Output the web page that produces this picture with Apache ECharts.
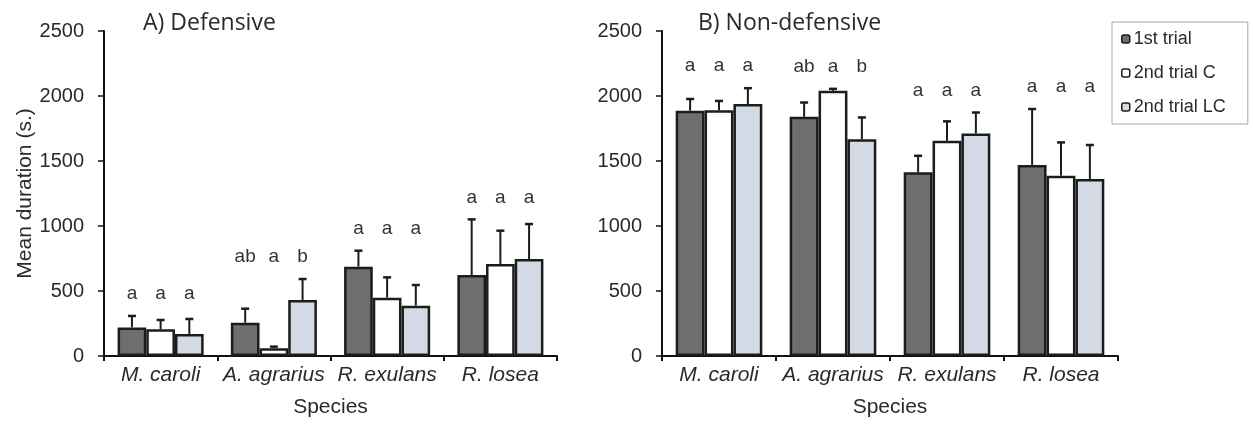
<!DOCTYPE html>
<html>
<head>
<meta charset="utf-8">
<script src="https://cdn.jsdelivr.net/npm/echarts@6/dist/echarts.min.js"></script>
<style>
html,body{margin:0;padding:0;background:#fff;}
#c{width:1253px;height:426px;}
</style>
</head>
<body>
<div id="c"></div>
<script>
// ---- data ----
var categories = ['M. caroli', 'A. agrarius', 'R. exulans', 'R. losea'];
var seriesNames = ['1st trial', '2nd trial C', '2nd trial LC'];
var yTicks = [0, 500, 1000, 1500, 2000, 2500];

// A) Defensive: means and upper ends of error bars
var defFirst    = [220, 256, 687, 623];
var defFirstErr = [308, 364, 810, 1051];
var defC        = [205, 59, 449, 708];
var defCErr     = [277, 72, 605, 964];
var defLC       = [169, 431, 387, 746];
var defLCErr    = [285, 592, 546, 1015];
var defLetters  = [['a','a','a'], ['ab','a','b'], ['a','a','a'], ['a','a','a']];

// B) Non-defensive
var nonFirst    = [1887, 1840, 1413, 1470];
var nonFirstErr = [1977, 1950, 1540, 1900];
var nonC        = [1890, 2040, 1655, 1387];
var nonCErr     = [1962, 2055, 1805, 1643];
var nonLC       = [1938, 1668, 1712, 1362];
var nonLCErr    = [2060, 1835, 1873, 1623];
var nonLetters  = [['a','a','a'], ['ab','a','b'], ['a','a','a'], ['a','a','a']];

// ---- styles ----
var fills = ['#6e6e6e', '#ffffff', '#d4dae5'];
var edge = '#1c1c1c';
var txt = '#2a2a2a';
var FONT = 'Liberation Sans, Arial, sans-serif';
var GAP = 0.24;

function errSeries(panel, means, errs, letters) {
  var data = [];
  for (var c = 0; c < categories.length; c++) {
    for (var k = 0; k < 3; k++) data.push([c, errs[k][c], k]);
  }
  return {
    type: 'custom', xAxisIndex: panel, yAxisIndex: panel, z: 5, silent: true,
    data: data, encode: {x: 0, y: 1},
    renderItem: function (params, api) {
      var c = api.value(0), err = api.value(1), k = api.value(2);
      var mean = means[k][c];
      var catW = api.size([1, 0])[0];
      var barW = catW * (1 - GAP) / 3;
      var x = api.coord([c, 0])[0] + (k - 1) * barW;
      var yTop = api.coord([c, mean])[1];
      var yErr = api.coord([c, err])[1];
      var gmax = Math.max(errs[0][c], errs[1][c], errs[2][c]);
      var yLet = api.coord([c, gmax])[1] - 22;
      var st = {stroke: edge, lineWidth: 2};
      return {
        type: 'group',
        children: [
          {type: 'line', shape: {x1: x, y1: yTop, x2: x, y2: yErr}, style: st},
          {type: 'line', shape: {x1: x - 4, y1: yErr, x2: x + 4, y2: yErr}, style: {stroke: edge, lineWidth: 2.5}},
          {type: 'text', style: {x: x, y: yLet, text: letters[c][k], fill: '#333333',
            font: '19px ' + FONT, textAlign: 'center', textVerticalAlign: 'middle'}}
        ]
      };
    }
  };
}

function barSeries(panel, name, values, k) {
  return {
    type: 'bar', name: name, xAxisIndex: panel, yAxisIndex: panel,
    data: values, barGap: '0%', barCategoryGap: (GAP * 100) + '%',
    itemStyle: {color: fills[k], borderColor: edge, borderWidth: 2.5},
    emphasis: {disabled: true}
  };
}

function xAx(grid) {
  return {
    type: 'category', gridIndex: grid, data: categories,
    name: 'Species', nameLocation: 'middle', nameGap: 41,
    nameTextStyle: {fontFamily: FONT, fontSize: 21, color: txt},
    axisLine: {lineStyle: {color: '#111', width: 2}},
    axisTick: {show: true, length: 5, inside: false, lineStyle: {color: '#111', width: 2}},
    axisLabel: {fontFamily: FONT, fontSize: 21, fontStyle: 'italic', color: txt, margin: 9, interval: 0}
  };
}
function yAx(grid, withName) {
  var o = {
    type: 'value', gridIndex: grid, min: 0, max: 2500, interval: 500,
    splitLine: {show: false},
    axisLine: {show: true, lineStyle: {color: '#111', width: 2}},
    axisTick: {show: true, length: 6, lineStyle: {color: '#111', width: 1.5}},
    axisLabel: {fontFamily: FONT, fontSize: 20, color: txt, margin: 20,
      formatter: function (v) { return yTicks.indexOf(v) >= 0 ? String(v) : ''; }}
  };
  if (withName) {
    o.name = 'Mean duration (s.)';
    o.nameLocation = 'middle';
    o.nameGap = 67;
    o.nameTextStyle = {fontFamily: FONT, fontSize: 21, color: txt};
  }
  return o;
}

var chart = echarts.init(document.getElementById('c'), null, {renderer: 'canvas'});
chart.setOption({
  animation: false,
  backgroundColor: '#ffffff',
  title: [
    {text: 'A) Defensive', left: 138, top: 7, textStyle: {fontFamily: 'Open Sans, sans-serif', fontSize: 23, fontWeight: 'normal', color: txt}},
    {text: 'B) Non-defensive', left: 693, top: 7, textStyle: {fontFamily: 'Open Sans, sans-serif', fontSize: 23, fontWeight: 'normal', color: txt}}
  ],
  legend: {
    data: seriesNames, orient: 'vertical', left: 1112, top: 22,
    padding: [8, 22, 8, 9], itemGap: 16, itemWidth: 8, itemHeight: 8,
    borderColor: '#a8a8a8', borderWidth: 1,
    itemStyle: {borderWidth: 1.5, borderColor: edge},
    textStyle: {fontFamily: FONT, fontSize: 18, color: txt, padding: [0, 0, 0, -1]}
  },
  grid: [
    {left: 104, top: 31, width: 453, height: 325},
    {left: 662, top: 31, width: 456, height: 325}
  ],
  xAxis: [xAx(0), xAx(1)],
  yAxis: [yAx(0, true), yAx(1, false)],
  series: [
    barSeries(0, seriesNames[0], defFirst, 0),
    barSeries(0, seriesNames[1], defC, 1),
    barSeries(0, seriesNames[2], defLC, 2),
    barSeries(1, seriesNames[0], nonFirst, 0),
    barSeries(1, seriesNames[1], nonC, 1),
    barSeries(1, seriesNames[2], nonLC, 2),
    errSeries(0, [defFirst, defC, defLC], [defFirstErr, defCErr, defLCErr], defLetters),
    errSeries(1, [nonFirst, nonC, nonLC], [nonFirstErr, nonCErr, nonLCErr], nonLetters)
  ]
});
</script>
</body>
</html>
